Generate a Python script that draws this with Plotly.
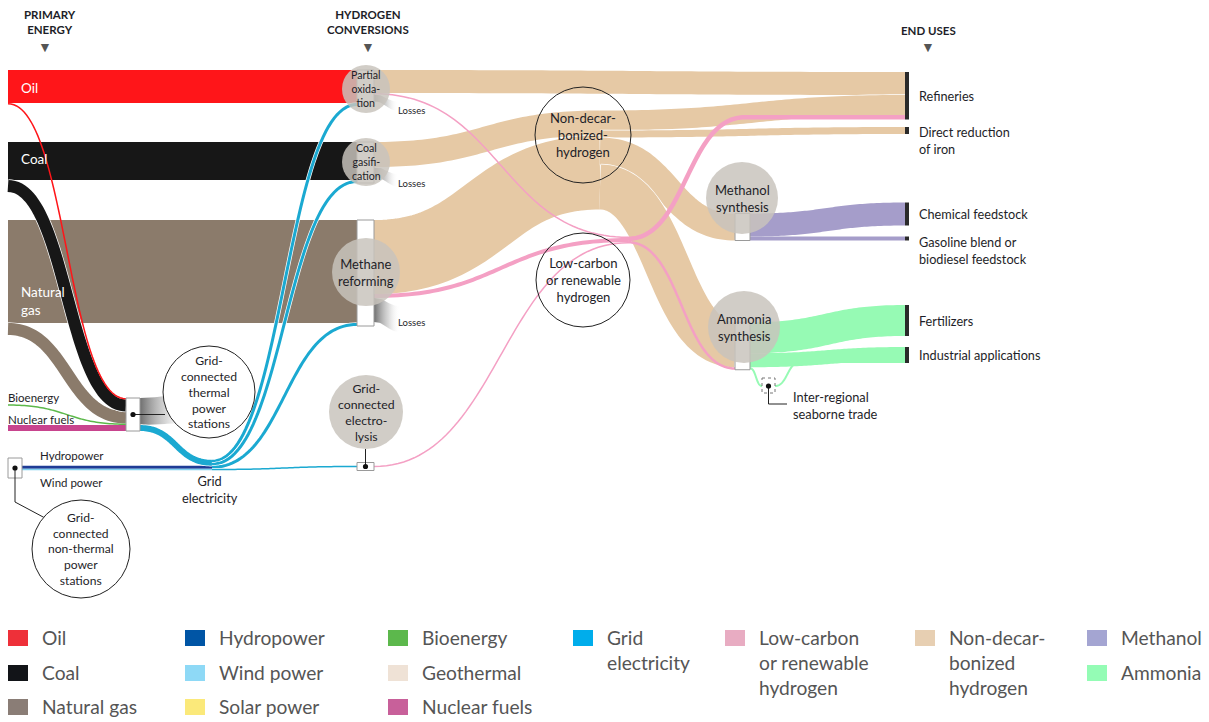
import numpy as np
import plotly.graph_objects as go
from collections import defaultdict

W, H = 1209, 722
SCALE = 1.0  # pixels of band width per unit of flow

# ---------------- flows (source -> target, value, carrier) ----------------
flow_source = [
    "Oil", "Oil",
    "Coal", "Coal",
    "Natural gas", "Natural gas",
    "Bioenergy", "Nuclear fuels",
    "Non-thermal power", "Non-thermal power",
    "Thermal power", "Thermal power",
    "Grid electricity", "Grid electricity", "Grid electricity", "Grid electricity",
    "Partial oxidation", "Partial oxidation", "Partial oxidation",
    "Coal gasification", "Coal gasification",
    "Methane reforming", "Methane reforming", "Methane reforming",
    "Electrolysis",
    "Non-decarbonized hydrogen", "Non-decarbonized hydrogen",
    "Non-decarbonized hydrogen", "Non-decarbonized hydrogen",
    "Low-carbon hydrogen", "Low-carbon hydrogen",
    "Methanol synthesis", "Methanol synthesis",
    "Ammonia synthesis", "Ammonia synthesis", "Ammonia synthesis",
    "Seaborne trade",
]
flow_target = [
    "Partial oxidation", "Thermal power",
    "Coal gasification", "Thermal power",
    "Methane reforming", "Thermal power",
    "Thermal power", "Thermal power",
    "Grid electricity", "Grid electricity",
    "Losses", "Grid electricity",
    "Partial oxidation", "Coal gasification", "Methane reforming", "Electrolysis",
    "Refineries", "Low-carbon hydrogen", "Losses",
    "Non-decarbonized hydrogen", "Losses",
    "Non-decarbonized hydrogen", "Low-carbon hydrogen", "Losses",
    "Low-carbon hydrogen",
    "Refineries", "Direct reduction of iron",
    "Methanol synthesis", "Ammonia synthesis",
    "Refineries", "Ammonia synthesis",
    "Chemical feedstock", "Gasoline blend or biodiesel feedstock",
    "Fertilizers", "Industrial applications", "Seaborne trade",
    "Industrial applications",
]
flow_value = [
    33, 1.5,
    38, 12,
    103, 12,
    1.5, 6,
    3, 1.5,
    27, 6,
    3, 3, 3, 1.5,
    23, 1.5, 7,
    25, 10,
    74, 4, 24,
    1.5,
    20, 7, 27, 45,
    4.5, 2.5,
    23, 4,
    31, 14, 2,
    2,
]
flow_carrier = [
    "Oil", "Oil",
    "Coal", "Coal",
    "Natural gas", "Natural gas",
    "Bioenergy", "Nuclear fuels",
    "Hydropower", "Wind power",
    "Losses", "Grid electricity",
    "Grid electricity", "Grid electricity", "Grid electricity", "Grid electricity",
    "Non-decarbonized hydrogen", "Low-carbon hydrogen", "Losses",
    "Non-decarbonized hydrogen", "Losses",
    "Non-decarbonized hydrogen", "Low-carbon hydrogen", "Losses",
    "Low-carbon hydrogen",
    "Non-decarbonized hydrogen", "Non-decarbonized hydrogen",
    "Non-decarbonized hydrogen", "Non-decarbonized hydrogen",
    "Low-carbon hydrogen", "Low-carbon hydrogen",
    "Methanol", "Methanol",
    "Ammonia", "Ammonia", "Ammonia",
    "Ammonia",
]

# legend
legend_labels = [
    "Oil", "Coal", "Natural gas",
    "Hydropower", "Wind power", "Solar power",
    "Bioenergy", "Geothermal", "Nuclear fuels",
    "Grid<br>electricity",
    "Low-carbon<br>or renewable<br>hydrogen",
    "Non-decar-<br>bonized<br>hydrogen",
    "Methanol", "Ammonia",
]
legend_colors = [
    "#ee3039", "#121418", "#8a7d76",
    "#0055a5", "#8ed9f6", "#fbe97a",
    "#5cb84c", "#efe2d6", "#c8609a",
    "#00adeb",
    "#e8acc2",
    "#e7cfb2",
    "#a4a5d2", "#94fcb5",
]

# ---------------- styling / layout ----------------
CARRIER_COLOR = {
    "Oil": "#ff1519",
    "Coal": "#171717",
    "Natural gas": "#8b7b6b",
    "Bioenergy": "#5cb84a",
    "Nuclear fuels": "#c8448e",
    "Hydropower": "#1f3c96",
    "Wind power": "#7fd0ee",
    "Grid electricity": "#1ba9d1",
    "Non-decarbonized hydrogen": "#e6c9a5",
    "Low-carbon hydrogen": "#f4a0c4",
    "Methanol": "#a59dca",
    "Ammonia": "#96fab4",
}
Z_ORDER = ["Natural gas", "Coal", "Oil", "Bioenergy", "Nuclear fuels", "Hydropower",
           "Wind power", "Grid electricity", "Non-decarbonized hydrogen",
           "Low-carbon hydrogen", "Methanol", "Ammonia"]
SEPARATED = {"Non-decarbonized hydrogen", "Grid electricity", "Coal", "Natural gas"}

# node placement: left edge, box width, vertical centre (pixels)
NODE_POS = {
    "Oil": (8, 0, 87.25),
    "Coal": (8, 0, 167),
    "Natural gas": (8, 0, 277.5),
    "Bioenergy": (8, 0, 405),
    "Nuclear fuels": (8, 0, 428),
    "Non-thermal power": (8, 14, 468),
    "Thermal power": (126, 14, 414.5),
    "Grid electricity": (212, 0, 465),
    "Partial oxidation": (357, 17, 88),
    "Coal gasification": (357, 17, 162.5),
    "Methane reforming": (357, 17, 273),
    "Electrolysis": (357, 17, 466.5),
    "Non-decarbonized hydrogen": (600, 0, 160),
    "Low-carbon hydrogen": (628, 0, 240),
    "Methanol synthesis": (735, 15, 227),
    "Ammonia synthesis": (735, 15, 346),
    "Seaborne trade": (762, 13, 386),
    "Refineries": (905, 4, 95.75),
    "Direct reduction of iron": (905, 4, 130.5),
    "Chemical feedstock": (905, 4, 214),
    "Gasoline blend or biodiesel feedstock": (905, 4, 238.5),
    "Fertilizers": (905, 4, 320.5),
    "Industrial applications": (905, 4, 355),
}
BOX_NODES = {"Non-thermal power": 20, "Thermal power": 0, "Partial oxidation": 0,
             "Coal gasification": 0, "Methane reforming": 0, "Electrolysis": 8,
             "Methanol synthesis": 0, "Ammonia synthesis": 0}
END_NODES = ["Refineries", "Direct reduction of iron", "Chemical feedstock",
             "Gasoline blend or biodiesel feedstock", "Fertilizers", "Industrial applications"]
# where a curve should finish before running straight into its target
CURVE_END = {("Low-carbon hydrogen", "Refineries"): 745,
             ("Seaborne trade", "Industrial applications"): 800}
# loss wedges: length, downward drift, stacked first at source, label offset below wedge
LOSS_STYLE = {"Thermal power": (48, -4, True, 0), "Partial oxidation": (24, 7, False, 8.5),
              "Coal gasification": (24, 7, False, 6), "Methane reforming": (26, 8, False, 0)}

FONT = "Lato, 'Open Sans', sans-serif"
TXT = "#1e1e28"

# ---------------- stack flows on nodes ----------------
vin, vout = defaultdict(float), defaultdict(float)
for s, t, v in zip(flow_source, flow_target, flow_value):
    vout[s] += v
    if t != "Losses":
        vin[t] += v
size = {n: max(vin[n], vout[n]) * SCALE for n in NODE_POS}
top = {n: NODE_POS[n][2] - size[n] / 2 for n in NODE_POS}

n_links = len(flow_value)
src_y0, tgt_y0 = [0.0] * n_links, [0.0] * n_links


def out_key(i):
    t = flow_target[i]
    if t == "Losses":
        return (-1e9 if LOSS_STYLE[flow_source[i]][2] else 1e9, i)
    return (NODE_POS[t][2], i)


for n in NODE_POS:
    cur = top[n]
    for i in sorted([i for i in range(n_links) if flow_source[i] == n], key=out_key):
        src_y0[i] = cur
        cur += flow_value[i] * SCALE
    cur = top[n]
    ins = [i for i in range(n_links) if flow_target[i] == n]
    for i in sorted(ins, key=lambda i: (NODE_POS[flow_source[i]][2], i)):
        tgt_y0[i] = cur
        cur += flow_value[i] * SCALE


def bezier(xs, ys, xt, yt, xe=None, n=60):
    xe = xt if xe is None else xe
    t = np.linspace(0, 1, n)
    xm = (xs + xe) / 2
    bx = (1 - t) ** 3 * xs + 3 * (1 - t) ** 2 * t * xm + 3 * (1 - t) * t ** 2 * xm + t ** 3 * xe
    by = (1 - t) ** 3 * ys + 3 * (1 - t) ** 2 * t * ys + 3 * (1 - t) * t ** 2 * yt + t ** 3 * yt
    if xe < xt:
        bx, by = np.append(bx, xt), np.append(by, yt)
    return bx, by


fig = go.Figure()

# loss wedges (fading grey)
for i in range(n_links):
    if flow_target[i] != "Losses":
        continue
    s = flow_source[i]
    x0, w, _ = NODE_POS[s]
    xs = x0 + w
    L, drop, _, _ = LOSS_STYLE[s]
    y0, y1 = src_y0[i], src_y0[i] + flow_value[i] * SCALE
    tx, ty = bezier(xs, y0, xs + L, y0 + drop, n=20)
    bx, by = bezier(xs, y1, xs + L, y1 + drop + 2, n=20)
    fig.add_trace(go.Scatter(
        x=np.concatenate([tx, bx[::-1]]), y=np.concatenate([ty, by[::-1]]),
        mode="lines", line=dict(width=0), fill="toself",
        fillgradient=dict(type="horizontal",
                          colorscale=[[0, "rgba(95,95,95,0.9)"], [0.55, "rgba(170,170,170,0.45)"],
                                      [1, "rgba(255,255,255,0)"]]),
        hoverinfo="skip", showlegend=False))

# ribbons, drawn as constant-width strokes along the centre curve
order = sorted([i for i in range(n_links) if flow_target[i] != "Losses"],
               key=lambda i: (Z_ORDER.index(flow_carrier[i]), i))
for i in order:
    s, t, v = flow_source[i], flow_target[i], flow_value[i] * SCALE
    xs = NODE_POS[s][0] + NODE_POS[s][1]
    xt = NODE_POS[t][0]
    ys = src_y0[i] + v / 2
    yt = tgt_y0[i] + v / 2
    bx, by = bezier(xs, ys, xt, yt, CURVE_END.get((s, t)))
    carrier = flow_carrier[i]
    if carrier in SEPARATED:
        fig.add_trace(go.Scatter(x=bx, y=by, mode="lines",
                                 line=dict(color="white", width=v + 1.4, simplify=False),
                                 hoverinfo="skip", showlegend=False))
    fig.add_trace(go.Scatter(x=bx, y=by, mode="lines",
                             line=dict(color=CARRIER_COLOR[carrier], width=max(v, 1.2), simplify=False),
                             hoverinfo="skip", showlegend=False))

shapes = []
# process boxes
for n, min_h in BOX_NODES.items():
    x0, w, yc = NODE_POS[n]
    h = max(size[n], min_h)
    shapes.append(dict(type="rect", x0=x0, x1=x0 + w, y0=yc - h / 2, y1=yc + h / 2,
                       fillcolor="white", line=dict(color="#9a9a9a", width=1), layer="above"))
# end-use bars
for n in END_NODES:
    x0, w, yc = NODE_POS[n]
    shapes.append(dict(type="rect", x0=x0, x1=x0 + w, y0=top[n], y1=top[n] + size[n],
                       fillcolor="#2a2a2a", line=dict(width=0), layer="above"))
# trade hub (dashed)
tx0, tw, tyc = NODE_POS["Seaborne trade"]
shapes.append(dict(type="rect", x0=tx0, x1=tx0 + tw, y0=tyc - 8, y1=tyc + 7,
                   fillcolor="rgba(0,0,0,0)", line=dict(color="#777", width=1, dash="dot"), layer="above"))

# circles: centre x, centre y, radius, style, label, font size
CIRCLES = [
    (366, 89, 24, "grey", "Partial<br>oxida-<br>tion", 10.6),
    (366, 162, 24, "grey", "Coal<br>gasifi-<br>cation", 10.6),
    (366, 272, 34, "grey", "Methane<br>reforming", 13),
    (366, 412, 37, "grey", "Grid-<br>connected<br>electro-<br>lysis", 12.3),
    (742, 198, 36, "grey", "Methanol<br>synthesis", 13),
    (744, 327, 36, "grey", "Ammonia<br>synthesis", 13),
    (209, 392, 46, "white", "Grid-<br>connected<br>thermal<br>power<br>stations", 12.2),
    (81, 549, 49, "white", "Grid-<br>connected<br>non-thermal<br>power<br>stations", 12.1),
    (583, 135, 48, "ring", "Non-decar-<br>bonized-<br>hydrogen", 13.1),
    (583, 280, 47, "ring", "Low-carbon<br>or renewable<br>hydrogen", 13.1),
]

# connector lines and dots (under circles)
th_x0, th_w, th_yc = NODE_POS["Thermal power"]
el_x0, el_w, el_yc = NODE_POS["Electrolysis"]
nt_x0, nt_w, nt_yc = NODE_POS["Non-thermal power"]
shapes += [
    dict(type="line", x0=th_x0 + th_w / 2, y0=th_yc, x1=165, y1=th_yc, line=dict(color="#222", width=1), layer="above"),
    dict(type="line", x0=el_x0 + el_w / 2, y0=el_yc, x1=el_x0 + el_w / 2, y1=449, line=dict(color="#222", width=1), layer="above"),
    dict(type="path", path=f"M {nt_x0 + nt_w / 2},{nt_yc} L {nt_x0 + nt_w / 2},502 L 45,518",
         line=dict(color="#222", width=1), layer="above"),
    dict(type="path", path=f"M {tx0 + tw / 2},{tyc} L {tx0 + tw / 2},404 L 787,404",
         line=dict(color="#222", width=1), layer="above"),
]

for cx, cy, r, style, _, _ in CIRCLES:
    if style == "grey":
        fc, ln = "rgba(200,195,188,0.84)", dict(width=0)
    elif style == "white":
        fc, ln = "white", dict(color="#222", width=1)
    else:
        fc, ln = "rgba(0,0,0,0)", dict(color="#222", width=1)
    shapes.append(dict(type="circle", x0=cx - r, x1=cx + r, y0=cy - r, y1=cy + r,
                       fillcolor=fc, line=ln, layer="above"))

for cx, cy in [(th_x0 + th_w / 2, th_yc), (el_x0 + el_w / 2, el_yc),
               (nt_x0 + nt_w / 2, nt_yc), (tx0 + tw / 2, tyc)]:
    shapes.append(dict(type="circle", x0=cx - 2.6, x1=cx + 2.6, y0=cy - 2.6, y1=cy + 2.6,
                       fillcolor="#111", line=dict(width=0), layer="above"))

annotations = []


def label(x, y, text, size=12, color=TXT, xanchor="left", align="left", bold=False, yanchor="middle"):
    if bold:
        text = f"<b>{text}</b>"
    annotations.append(dict(x=x, y=y, xref="x", yref="y", text=text, showarrow=False,
                            xanchor=xanchor, yanchor=yanchor, align=align,
                            font=dict(family=FONT, size=size, color=color)))


for cx, cy, r, style, text, fs in CIRCLES:
    label(cx, cy, text, size=fs, xanchor="center", align="center")

# column headers
label(50, 22, "PRIMARY<br>ENERGY", size=11.5, xanchor="center", align="center", bold=True)
label(368, 22, "HYDROGEN<br>CONVERSIONS", size=11.5, xanchor="center", align="center", bold=True)
label(928, 30, "END USES", size=11.5, xanchor="center", align="center", bold=True)
for x in (45, 368, 928):
    label(x, 46, "▼", size=14, color="#555", xanchor="center")

# labels on the source bands
label(19, 88, "Oil", size=13.5, color="white")
label(19, 159, "Coal", size=13.5, color="white")
label(19, 301, "Natural<br>gas", size=13.5, color="white")
label(6, 397, "Bioenergy", size=11.5)
label(6, 419, "Nuclear fuels", size=11.5)
label(38, 455, "Hydropower", size=11.5)
label(38, 482, "Wind power", size=11.5)
label(210, 489, "Grid<br>electricity", size=12.8, xanchor="center", align="center")
for n in ("Partial oxidation", "Coal gasification", "Methane reforming"):
    i = [k for k in range(n_links) if flow_source[k] == n and flow_target[k] == "Losses"][0]
    label(396, src_y0[i] + flow_value[i] * SCALE + LOSS_STYLE[n][3], "Losses", size=9.5)

# end-use labels
END_TEXT = {
    "Refineries": "Refineries",
    "Direct reduction of iron": "Direct reduction<br>of iron",
    "Chemical feedstock": "Chemical feedstock",
    "Gasoline blend or biodiesel feedstock": "Gasoline blend or<br>biodiesel feedstock",
    "Fertilizers": "Fertilizers",
    "Industrial applications": "Industrial applications",
}
for n in END_NODES:
    x0, w, yc = NODE_POS[n]
    if "<br>" in END_TEXT[n]:
        label(x0 + 12, top[n] - 5, END_TEXT[n], size=12.7, yanchor="top")
    else:
        label(x0 + 12, yc, END_TEXT[n], size=12.7)
label(791, 405, "Inter-regional<br>seaborne trade", size=12.8)

# legend
LEG_X = [8, 185, 388, 573, 725, 915, 1087]
LEG_ROWS = [638, 673, 707]
legend_slots = [(0, 0), (0, 1), (0, 2), (1, 0), (1, 1), (1, 2), (2, 0), (2, 1), (2, 2),
                (3, 0), (4, 0), (5, 0), (6, 0), (6, 1)]
for (col, row), text, color in zip(legend_slots, legend_labels, legend_colors):
    x, y = LEG_X[col], LEG_ROWS[row]
    shapes.append(dict(type="rect", x0=x, x1=x + 20, y0=y - 8, y1=y + 8,
                       fillcolor=color, line=dict(width=0), layer="above"))
    annotations.append(dict(x=x + 32, y=y - 14, xref="x", yref="y", text=text, showarrow=False,
                            xanchor="left", yanchor="top", align="left",
                            font=dict(family=FONT, size=19.2, color="#555")))

fig.update_layout(
    width=W, height=H, autosize=False,
    margin=dict(l=0, r=0, t=0, b=0),
    paper_bgcolor="white", plot_bgcolor="white",
    xaxis=dict(range=[0, W], visible=False, fixedrange=True),
    yaxis=dict(range=[H, 0], visible=False, fixedrange=True),
    shapes=shapes, annotations=annotations, showlegend=False,
)
fig.write_html("out.html")
